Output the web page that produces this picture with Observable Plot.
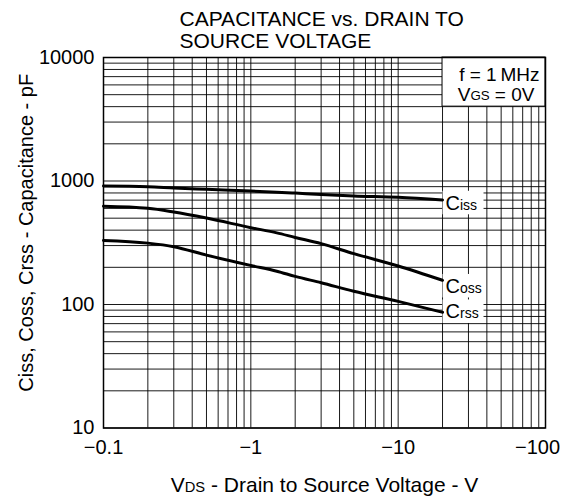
<!DOCTYPE html>
<html><head><meta charset="utf-8">
<script src="https://cdn.jsdelivr.net/npm/d3@7"></script>
<script src="https://cdn.jsdelivr.net/npm/@observablehq/plot@0.6"></script>
<style>
html,body{margin:0;padding:0;background:#fff;}
#chart svg{display:block;}
</style></head><body><div id="chart"></div>
<script>
// ---- data ----
const vds  = [-0.1, -0.2, -0.3, -0.5, -1, -1.5, -2, -3, -5, -10, -20];
const ciss = [911, 900, 878, 856, 830, 812, 798, 778, 757, 738, 702];
const coss = [624, 601, 561, 501, 419, 380, 349, 311, 258, 205, 157];
const crss = [330, 314, 294, 251, 207, 186, 169, 150, 128, 106, 86.5];
const seriesNames = ["C_{iss}", "C_{oss}", "C_{rss}"];
const labelCenters = [660, 140, 87];          // pF value where each curve label sits
const xTicks = [-0.1, -1, -10, -100];
const yTicks = [10, 100, 1000, 10000];
const titleLines = ["CAPACITANCE vs. DRAIN TO", "SOURCE VOLTAGE"];
const xLabel = "V_{DS} - Drain to Source Voltage - V";
const yLabel = "Ciss, Coss, Crss - Capacitance - pF";
const noteLines = ["f = 1\u2009MHz", "V_{GS} = 0V"];
const noteBox = {vFrom: -20, vTo: -100, cFrom: 4000, cTo: 10000};

// log grid values (1..9 per decade)
const mult = [1,2,3,4,5,6,7,8,9];
const xGrid = [0.1, 1, 10].flatMap(d => mult.map(m => +(m * d).toPrecision(3))).concat([100]);
const yGrid = [10, 100, 1000].flatMap(d => mult.map(m => m * d)).concat([10000]);

const series = [ciss, coss, crss];
const rows = series.flatMap((vals, s) => vds.map((v, i) => ({v: Math.abs(v), c: vals[i], s})));
const labels = seriesNames.map((name, i) => ({name, v: Math.abs(vds[vds.length - 1]), c: labelCenters[i]}));

const font = "'Liberation Sans', Arial, Helvetica, sans-serif";
const ns = "http://www.w3.org/2000/svg";
const minus = d => "\u2212" + Math.abs(d);

const labelBoxes = (index, scales) => {
  const g = document.createElementNS(ns, "g");
  labels.forEach(l => {
    const r = document.createElementNS(ns, "rect");
    const x0 = scales.x(l.v), yc = scales.y(l.c);
    r.setAttribute("x", x0 + 0.5);
    r.setAttribute("y", yc - 12);
    r.setAttribute("width", 41);
    r.setAttribute("height", 23.5);
    r.setAttribute("fill", "white");
    g.appendChild(r);
  });
  return g;
};

const plot = Plot.plot({
  width: 564, height: 497,
  marginLeft: 103, marginRight: 19, marginTop: 57, marginBottom: 69.5,
  style: {fontFamily: font, fontSize: "20px", color: "black", background: "white", overflow: "visible"},
  x: {type: "log", domain: [0.1, 100], axis: null},
  y: {type: "log", domain: [10, 10000], axis: null},
  marks: [
    Plot.ruleX(xGrid, {stroke: "black", strokeWidth: 1, strokeOpacity: 0.9}),
    Plot.ruleY(yGrid, {stroke: "black", strokeWidth: 1, strokeOpacity: 0.9}),
    Plot.rect([noteBox], {x1: d => Math.abs(d.vFrom), x2: d => Math.abs(d.vTo), y1: "cFrom", y2: "cTo", fill: "white", stroke: "black", strokeWidth: 1}),
    labelBoxes,
    Plot.line(rows, {x: "v", y: "c", z: "s", stroke: "black", strokeWidth: 3, curve: "monotone-x"}),
    Plot.text(labels, {x: "v", y: "c", text: "name", textAnchor: "start", lineAnchor: "middle", dx: 3, fontSize: 20}),
    Plot.frame({stroke: "black", strokeWidth: 1.5}),
    Plot.axisX(xTicks.slice(0, 3).map(Math.abs), {tickFormat: minus, tickSize: 0, tickPadding: 12, fontSize: 20, label: null}),
    Plot.axisX(xTicks.slice(3).map(Math.abs), {tickFormat: minus, tickSize: 0, tickPadding: 12, fontSize: 20, label: null, dx: -8}),
    Plot.axisY(yTicks, {tickFormat: d => String(d), tickSize: 0, tickPadding: 9, fontSize: 20, label: null}),
    Plot.text([titleLines.join("\n")], {frameAnchor: "top-left", dx: 76, dy: -47.5, textAnchor: "start", lineAnchor: "top", fontSize: 21, lineHeight: 1.06}),
    Plot.text([yLabel], {frameAnchor: "left", rotate: -90, dx: -77, dy: -10, fontSize: 20, textAnchor: "middle", lineAnchor: "middle"}),
    Plot.text([xLabel], {frameAnchor: "bottom", dy: 49.5, textAnchor: "middle", lineAnchor: "top", fontSize: 21}),
    Plot.text([noteLines[0]], {frameAnchor: "top-right", dx: -6, dy: 9.5, textAnchor: "end", lineAnchor: "top", fontSize: 19}),
    Plot.text([noteLines[1]], {frameAnchor: "top-right", dx: -11, dy: 29.5, textAnchor: "end", lineAnchor: "top", fontSize: 19})
  ]
});

// turn _{...} into smaller same-baseline tspans
for (const t of plot.querySelectorAll("text")) {
  const s = t.textContent;
  if (!s.includes("_{")) continue;
  const parts = s.split(/(_\{[^}]*\})/);
  t.textContent = "";
  for (const p of parts) {
    if (!p) continue;
    const ts = document.createElementNS(ns, "tspan");
    if (p.startsWith("_{")) { ts.textContent = p.slice(2, -1); ts.setAttribute("font-size", "0.7em"); }
    else ts.textContent = p;
    t.appendChild(ts);
  }
}
document.getElementById("chart").appendChild(plot);
</script></body></html>
